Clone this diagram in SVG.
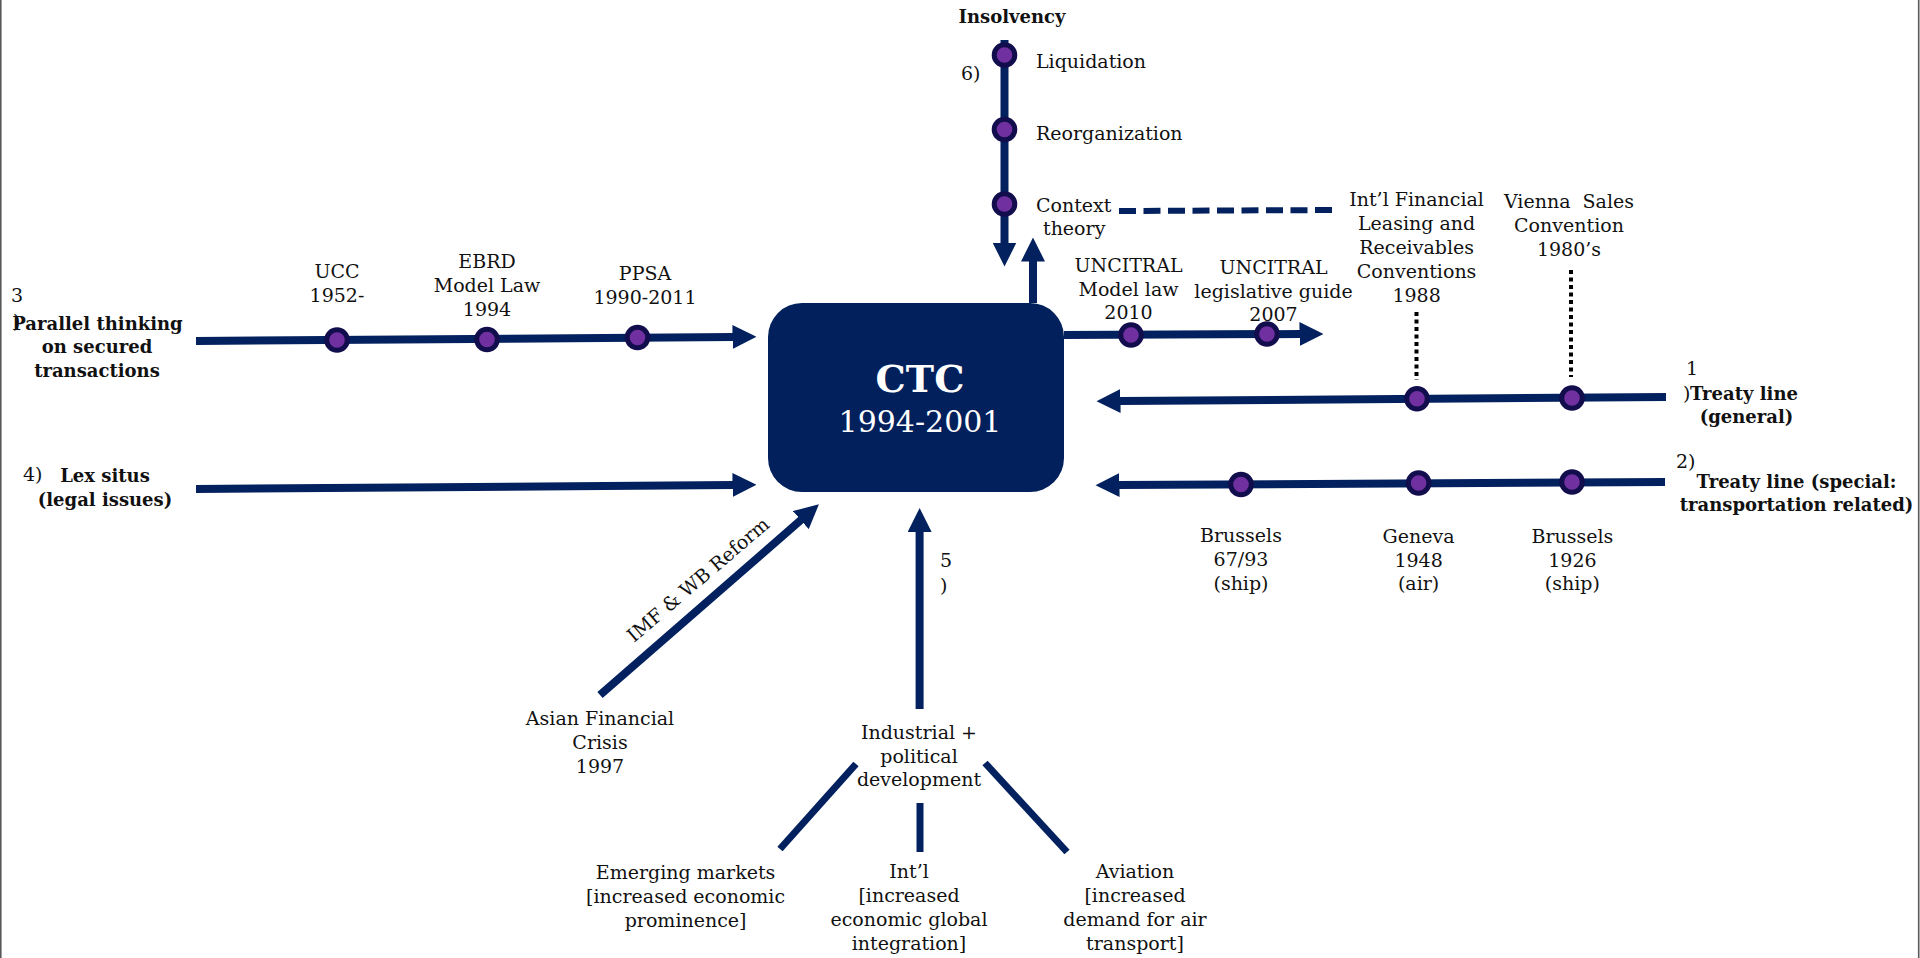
<svg xmlns="http://www.w3.org/2000/svg" width="1920" height="958" viewBox="0 0 1920 958">
  <style>
    .t { font-family: "DejaVu Serif", "Liberation Serif", serif; font-size: 19px; fill: #111; }
    .c { text-anchor: middle; }
    .b { font-weight: bold; font-size: 18px; }
    .ln { stroke: #03215e; stroke-width: 8; fill: none; }
    .br { stroke: #03215e; stroke-width: 7; fill: none; }
    .dash { stroke: #03215e; stroke-width: 6; stroke-dasharray: 17 7.5; fill: none; }
    .dot { stroke: #000; stroke-width: 4; stroke-dasharray: 4 3.5; fill: none; }
    .node { fill: #7030a0; stroke: #120d4c; stroke-width: 5; }
    .frame { stroke: #595959; stroke-width: 1.6; }
  </style>
  <defs>
    <marker id="ah" viewBox="0 0 24 24" refX="0.5" refY="12" markerWidth="24" markerHeight="24" markerUnits="userSpaceOnUse" orient="auto">
      <path d="M0,0 L24,12 L0,24 Z" fill="#03215e"/>
    </marker>
  </defs>

  <rect width="1920" height="958" fill="#fff"/>
  <line class="frame" x1="0.8" y1="0" x2="0.8" y2="958"/>
  <line class="frame" x1="1918.7" y1="0" x2="1918.7" y2="958"/>

  <!-- connectors -->
  <g id="connectors">
    <path class="ln" d="M196,341 L733,337" marker-end="url(#ah)"/>
    <path class="ln" d="M196,489 L733,485" marker-end="url(#ah)"/>
    <path class="ln" d="M1004.5,40 V243" marker-end="url(#ah)"/>
    <path class="ln" d="M1033,303 V261" marker-end="url(#ah)"/>
    <path class="ln" d="M1064,335 L1300,334" marker-end="url(#ah)"/>
    <path class="ln" d="M1666,397 L1120,401" marker-end="url(#ah)"/>
    <path class="ln" d="M1665,482 L1119,485" marker-end="url(#ah)"/>
    <path class="ln" d="M600,695 L801.2,519.8" marker-end="url(#ah)"/>
    <path class="ln" d="M919.6,709 V531.5" marker-end="url(#ah)"/>
    <path class="br" d="M856,764 L780,849"/>
    <path class="br" d="M920,803 V852"/>
    <path class="br" d="M985,763 L1067,852"/>
    <path class="dash" d="M1119,211 L1338,210"/>
    <path class="dot" d="M1416.5,312 V380"/>
    <path class="dot" d="M1571,270 V377"/>
  </g>

  <!-- central box -->
  <g id="ctc">
    <rect x="768" y="303" width="296" height="189" rx="34" fill="#02205c"/>
    <text class="t c" x="920" y="392" style="font-weight:bold;font-size:38px;fill:#fff">CTC</text>
    <text class="t c" x="920" y="432" style="font-size:30px;fill:#fff">1994-2001</text>
  </g>

  <!-- 3) secured transactions line -->
  <g id="parallel-thinking">
    <text class="t" x="11" y="302">3</text>
    <text class="t" x="13" y="328">)</text>
    <text class="t b c" x="97.5" y="330">Parallel thinking</text>
    <text class="t b c" x="97" y="353">on secured</text>
    <text class="t b c" x="97" y="377">transactions</text>
  </g>
  <g id="ucc">
    <circle class="node" cx="337" cy="340" r="10.3"/>
    <text class="t c" x="337" y="278">UCC</text>
    <text class="t c" x="337" y="302">1952-</text>
  </g>
  <g id="ebrd">
    <circle class="node" cx="487" cy="339.5" r="10.3"/>
    <text class="t c" x="487" y="268">EBRD</text>
    <text class="t c" x="487" y="292">Model Law</text>
    <text class="t c" x="487" y="315.5">1994</text>
  </g>
  <g id="ppsa">
    <circle class="node" cx="637.5" cy="337.5" r="10.3"/>
    <text class="t c" x="645" y="280">PPSA</text>
    <text class="t c" x="645" y="304">1990-2011</text>
  </g>

  <!-- 4) lex situs line -->
  <g id="lex-situs">
    <text class="t" x="23" y="481">4)</text>
    <text class="t b c" x="105" y="482">Lex situs</text>
    <text class="t b c" x="105" y="506">(legal issues)</text>
  </g>

  <!-- 6) insolvency line -->
  <g id="insolvency">
    <text class="t b c" x="1012" y="22.5">Insolvency</text>
    <text class="t" x="961" y="80">6)</text>
  </g>
  <g id="liquidation">
    <circle class="node" cx="1004.5" cy="55" r="10.3"/>
    <text class="t" x="1036" y="68">Liquidation</text>
  </g>
  <g id="reorganization">
    <circle class="node" cx="1004.5" cy="129.5" r="10.3"/>
    <text class="t" x="1036" y="140">Reorganization</text>
  </g>
  <g id="context-theory">
    <circle class="node" cx="1004.5" cy="204" r="10.3"/>
    <text class="t" x="1036" y="212">Context</text>
    <text class="t" x="1043" y="235">theory</text>
  </g>

  <!-- UNCITRAL outputs -->
  <g id="uncitral-model-law">
    <circle class="node" cx="1131" cy="335" r="10.3"/>
    <text class="t c" x="1128.5" y="272">UNCITRAL</text>
    <text class="t c" x="1128.5" y="296">Model law</text>
    <text class="t c" x="1128.5" y="319">2010</text>
  </g>
  <g id="uncitral-guide">
    <circle class="node" cx="1267" cy="334" r="10.3"/>
    <text class="t c" x="1273.5" y="273.5">UNCITRAL</text>
    <text class="t c" x="1273.5" y="297.5">legislative guide</text>
    <text class="t c" x="1273.5" y="321">2007</text>
  </g>

  <!-- 1) treaty line (general) -->
  <g id="treaty-general">
    <text class="t" x="1686" y="375">1</text>
    <text class="t" x="1683" y="400">)</text>
    <text class="t b" x="1690" y="400">Treaty line</text>
    <text class="t b c" x="1746.5" y="423">(general)</text>
  </g>
  <g id="leasing-receivables">
    <circle class="node" cx="1417" cy="398.8" r="10.3"/>
    <text class="t c" x="1416.6" y="206">Int’l Financial</text>
    <text class="t c" x="1416.6" y="230">Leasing and</text>
    <text class="t c" x="1416.6" y="254">Receivables</text>
    <text class="t c" x="1416.6" y="278">Conventions</text>
    <text class="t c" x="1416.6" y="302">1988</text>
  </g>
  <g id="vienna-sales">
    <circle class="node" cx="1572" cy="398" r="10.3"/>
    <text class="t c" x="1569" y="208" xml:space="preserve">Vienna  Sales</text>
    <text class="t c" x="1569" y="232">Convention</text>
    <text class="t c" x="1569" y="256">1980’s</text>
  </g>

  <!-- 2) treaty line (special) -->
  <g id="treaty-special">
    <text class="t" x="1676" y="468">2)</text>
    <text class="t b c" x="1796.5" y="488">Treaty line (special:</text>
    <text class="t b c" x="1796.5" y="511">transportation related)</text>
  </g>
  <g id="brussels-6793">
    <circle class="node" cx="1241" cy="484.5" r="10.3"/>
    <text class="t c" x="1241" y="542">Brussels</text>
    <text class="t c" x="1241" y="566">67/93</text>
    <text class="t c" x="1241" y="590">(ship)</text>
  </g>
  <g id="geneva-1948">
    <circle class="node" cx="1418.6" cy="483" r="10.3"/>
    <text class="t c" x="1418.6" y="543">Geneva</text>
    <text class="t c" x="1418.6" y="567">1948</text>
    <text class="t c" x="1418.6" y="590">(air)</text>
  </g>
  <g id="brussels-1926">
    <circle class="node" cx="1572" cy="482" r="10.3"/>
    <text class="t c" x="1572.4" y="543">Brussels</text>
    <text class="t c" x="1572.4" y="567">1926</text>
    <text class="t c" x="1572.4" y="590">(ship)</text>
  </g>

  <!-- IMF & WB reform -->
  <g id="asian-crisis">
    <text class="t c" x="600" y="725">Asian Financial</text>
    <text class="t c" x="600" y="749">Crisis</text>
    <text class="t c" x="600" y="773">1997</text>
    <text class="t" transform="translate(634,643) rotate(-40.5)">IMF &amp; WB Reform</text>
  </g>

  <!-- 5) development -->
  <g id="development">
    <text class="t" x="940" y="567">5</text>
    <text class="t" x="940" y="592">)</text>
    <text class="t c" x="919" y="739">Industrial +</text>
    <text class="t c" x="919" y="763">political</text>
    <text class="t c" x="919" y="786">development</text>
  </g>
  <g id="emerging-markets">
    <text class="t c" x="685.6" y="879">Emerging markets</text>
    <text class="t c" x="685.6" y="903">[increased economic</text>
    <text class="t c" x="685.6" y="927">prominence]</text>
  </g>
  <g id="intl-integration">
    <text class="t c" x="909" y="878">Int’l</text>
    <text class="t c" x="909" y="902">[increased</text>
    <text class="t c" x="909" y="926">economic global</text>
    <text class="t c" x="909" y="950">integration]</text>
  </g>
  <g id="aviation">
    <text class="t c" x="1135" y="878">Aviation</text>
    <text class="t c" x="1135" y="902">[increased</text>
    <text class="t c" x="1135" y="926">demand for air</text>
    <text class="t c" x="1135" y="950">transport]</text>
  </g>
</svg>
